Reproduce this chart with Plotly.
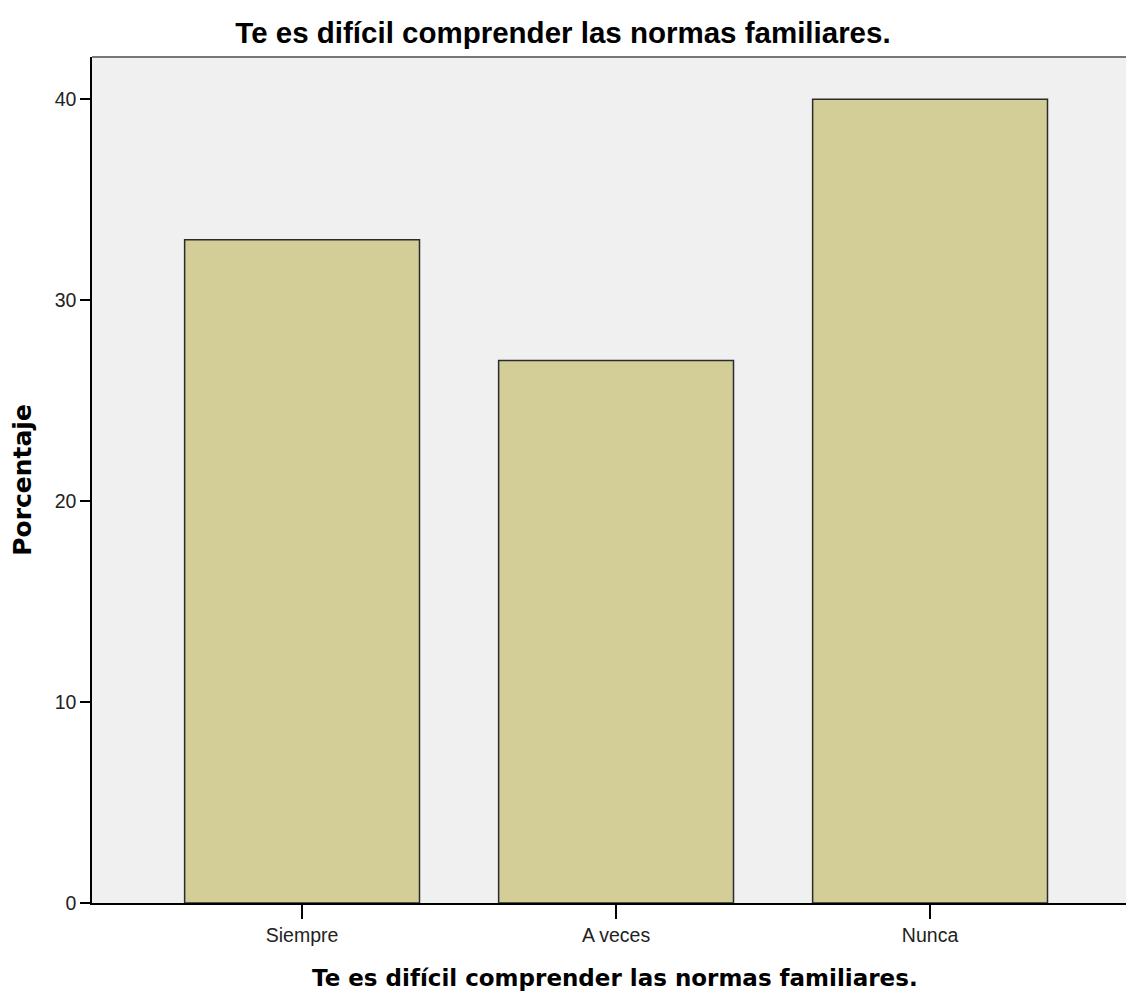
import plotly.graph_objects as go

categories = ["Siempre", "A veces", "Nunca"]
percentages = [33.0, 27.0, 40.0]
y_ticks = [0, 10, 20, 30, 40]

title_text = "Te es difícil comprender las normas familiares."

fig = go.Figure(
    go.Bar(
        x=categories,
        y=percentages,
        width=0.748,
        marker=dict(color="#D3CE97", line=dict(color="#2b2b2b", width=1.5)),
    )
)

fig.update_layout(
    width=1126,
    height=997,
    margin=dict(l=92, r=0, t=57, b=94),
    paper_bgcolor="white",
    plot_bgcolor="#F0F0F0",
    showlegend=False,
    title=dict(
        text="<b>" + title_text + "</b>",
        x=0.5,
        xanchor="center",
        y=1 - 33 / 997,
        yanchor="middle",
        font=dict(family="Liberation Sans, Arial", size=29.5, color="black"),
    ),
    xaxis=dict(
        range=[-0.669, 2.624],
        showgrid=False,
        showline=True,
        linecolor="black",
        linewidth=1.5,
        ticks="outside",
        ticklen=14,
        tickcolor="black",
        tickwidth=1.5,
        tickfont=dict(family="Liberation Sans, Arial", size=19.5, color="#222"),
        zeroline=False,
    ),
    yaxis=dict(
        range=[0, 42.1],
        tickvals=y_ticks,
        showgrid=False,
        showline=True,
        linecolor="black",
        linewidth=1.5,
        ticks="outside",
        ticklen=10,
        tickcolor="black",
        tickwidth=1.5,
        tickfont=dict(family="Liberation Sans, Arial", size=19.5, color="#222"),
        zeroline=False,
        title=dict(
            text="<b>Porcentaje</b>",
            font=dict(family="DejaVu Sans", size=25, color="black"),
            standoff=16,
        ),
    ),
    annotations=[
        dict(
            text="<b>" + title_text + "</b>",
            xref="paper",
            yref="paper",
            x=0.506,
            y=-75 / 846,
            xanchor="center",
            yanchor="middle",
            showarrow=False,
            font=dict(family="DejaVu Sans", size=23, color="black"),
        )
    ],
    shapes=[
        dict(
            type="line",
            xref="paper",
            yref="paper",
            x0=0,
            x1=1,
            y0=1,
            y1=1,
            line=dict(color="#777", width=2),
        )
    ],
)

# drop the default page margin so the figure sits at the window origin
fig.write_html(
    "out.html",
    config={"displayModeBar": False},
    post_script="document.body.style.margin='0';",
)
